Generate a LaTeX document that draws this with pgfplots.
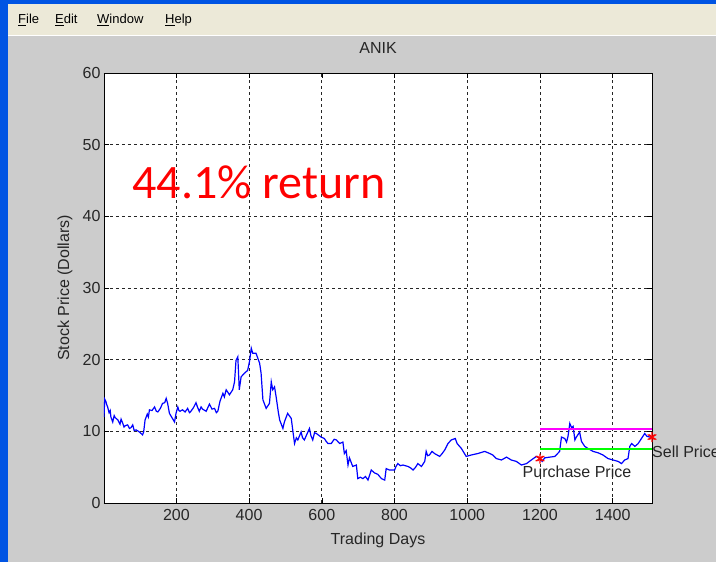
\documentclass[border=0pt]{standalone}
\usepackage{pgfplots}
\pgfplotsset{compat=1.18}
\usepackage{fontspec}
\setmainfont{Liberation Sans}
\newfontfamily\calib{Carlito}
\definecolor{figgray}{RGB}{204,204,204}
\definecolor{menubg}{RGB}{236,233,216}
\definecolor{xpblue}{RGB}{0,84,227}
\definecolor{mlblue}{RGB}{0,0,255}
\definecolor{mlmag}{RGB}{255,0,255}
\definecolor{mlgreen}{RGB}{0,255,0}
\definecolor{mlred}{RGB}{255,0,0}

\begin{document}
\begin{tikzpicture}[x=1pt,y=1pt]
% window frame
\fill[figgray] (0,0) rectangle (716,562);
\fill[menubg] (0,527) rectangle (716,558);
\draw[white, line width=1pt] (0,526.5) -- (716,526.5);
\fill[xpblue] (0,558) rectangle (716,562);
\fill[xpblue] (0,0) rectangle (8,562);
\begin{scope}[every node/.style={anchor=base west, inner sep=0pt, font=\fontsize{13}{15}\selectfont}]
\node at (18,538) {\underline{F}ile};
\node at (55,538) {\underline{E}dit};
\node at (97,538) {\underline{W}indow};
\node at (165,538) {\underline{H}elp};
\end{scope}

\begin{axis}[
    at={(104pt,59pt)}, anchor=south west,
    scale only axis, width=548pt, height=430pt,
    xmin=1, xmax=1508, ymin=0, ymax=60,
    xtick={200,400,...,1400}, ytick={0,10,...,60},
    tick pos=both, tick align=inside, major tick length=5pt,
    tick style={black, line width=0.6pt},
    axis line style={black, line width=0.8pt},
    axis background/.style={fill=white},
    grid=major,
    grid style={black!85, line width=0.7pt, dash pattern=on 3pt off 3pt},
    /pgf/number format/assume math mode=true,
    /pgf/number format/1000 sep={},
    tick label style={font=\fontsize{16}{18}\selectfont, text=black!85},
    xticklabel style={yshift=-3pt},
    title={ANIK},
    title style={at={(axis description cs:0.5,1.0442)}, anchor=center, font=\fontsize{16}{18}\selectfont, text=black!85},
    xlabel={Trading Days},
    xlabel style={at={(axis description cs:0.5,-0.086)}, anchor=center, font=\fontsize{16}{18}\selectfont, text=black!85},
    ylabel={Stock Price (Dollars)},
    ylabel style={at={(axis description cs:-0.071,0.5)}, anchor=center, font=\fontsize{16}{18}\selectfont, text=black!85},
    clip mode=individual,
]
\addplot[color=mlblue, line width=1.2pt] coordinates {
(1,12.0) (3,14.5) (6,14.2) (8,13.8) (11,13.4) (15,12.6) (18,12.9) (20,12.0) (25,11.3) (29,12.2) (32,11.9) (39,11.6)
(45,11.0) (48,11.7) (52,11.2) (56,10.6) (60,10.8) (66,10.9) (71,10.4) (75,10.5) (80,10.9) (84,10.1) (89,10.2) (96,10.0) (103,9.7) (107,9.5) (110,9.9) (114,11.6)
(120,12.4) (123,12.0) (126,13.0) (133,12.9) (140,13.4) (145,12.8) (149,12.7) (156,13.2) (162,13.9) (168,14.0) (172,14.6) (176,13.9)
(181,12.5) (188,11.9) (195,11.3) (199,12.5) (204,13.4) (207,12.9) (210,12.8) (217,13.0) (224,12.7) (231,13.2) (236,12.6) (240,12.8)
(247,13.3) (254,14.0) (258,13.4) (263,12.8) (268,13.4) (272,13.1) (282,12.8) (291,13.8) (298,13.1) (305,13.2) (310,12.6) (314,12.8)
(320,14.2) (328,15.3) (332,14.8) (337,15.8) (346,15.1) (355,15.8) (360,16.9) (364,19.9) (369,20.4) (373,15.8) (378,17.6)
(387,18.1) (396,18.5) (401,19.7) (406,21.6) (410,20.9) (419,20.9) (429,19.5) (433,18.1) (438,14.4) (447,13.2)
(456,13.9) (461,16.9) (465,15.8) (470,16.2) (475,14.6) (480,12.8) (484,11.6) (493,10.4) (497,11.3) (506,12.5)
(516,11.8) (520,10.2) (525,8.3) (530,9.1) (534,8.8) (543,9.9) (547,9.1) (552,8.8) (559,9.6) (566,10.4) (570,9.4) (575,8.8) (580,9.8) (585,9.7)
(598,9.2) (607,9.0) (612,8.6) (617,8.3) (626,8.3) (634,8.9) (640,8.8) (649,8.3) (658,8.5) (662,6.9) (667,7.3) (672,5.3) (676,6.3)
(685,5.1) (695,5.3) (699,3.4) (706,3.6) (713,3.4) (720,3.7) (727,3.2) (736,4.6) (745,4.2) (754,4.0) (764,3.4) (773,3.2)
(777,4.8) (786,4.6) (800,4.6) (804,5.1) (809,5.5) (816,5.2) (823,5.3) (837,5.1) (844,4.9) (851,4.6) (858,5.0) (864,5.5) (874,5.1) (883,5.8)
(887,7.2) (891,6.6) (896,6.7) (903,7.2) (910,6.9) (924,6.5) (931,6.9) (938,7.4) (947,8.3) (956,8.8) (967,9.0) (972,8.3) (984,7.6)
(997,6.5) (1011,6.7) (1029,6.9) (1048,7.2) (1062,6.9) (1070,6.7) (1080,6.2) (1094,6.0) (1108,6.4) (1121,6.0) (1135,5.8)
(1149,5.3) (1163,5.5) (1176,6.0) (1190,6.5) (1200,6.2) (1206,5.8) (1213,6.3) (1227,6.4) (1241,6.5) (1254,7.2) (1259,9.2)
(1268,9.0) (1273,8.5) (1277,9.3) (1282,11.1) (1287,10.5) (1291,10.7) (1296,8.8) (1300,9.2) (1309,9.9) (1314,8.6)
(1323,7.9) (1332,7.6) (1346,7.2) (1360,7.0) (1373,6.7) (1387,6.2) (1401,6.0) (1415,5.8) (1424,5.5) (1433,6.0)
(1442,6.2) (1447,7.9) (1452,8.3) (1461,7.9) (1470,8.3) (1479,9.0) (1488,9.7) (1494,9.3) (1502,9.2) (1508,9.2)
};
\addplot[draw=mlmag, line width=1.5pt] table {
x y
1200 10.3
1508 10.3
};
\addplot[draw=mlgreen, line width=1.5pt] table {
x y
1200 7.5
1508 7.5
};
\addplot[color=mlred, only marks, mark=asterisk, mark size=5pt, line width=1.1pt] coordinates {(1200,6.2) (1508,9.2)};
\addplot[color=mlred, only marks, mark=x, mark size=3.6pt, line width=1.1pt] coordinates {(1200,6.2) (1508,9.2)};
\node[anchor=west, inner sep=0pt, font=\fontsize{16}{18}\selectfont, text=black!85] at (axis cs:1152,4.3) {Purchase Price};
\node[anchor=west, inner sep=0pt, font=\fontsize{16}{18}\selectfont, text=black!85] at (axis cs:1508,7.1) {Sell Price};
\node[anchor=west, inner sep=0pt, text=mlred, font=\calib\fontsize{48}{52}\selectfont] at (axis cs:79,44.8) {44.1\% return};
\end{axis}
\pgfresetboundingbox
\path[use as bounding box] (0,0) rectangle (716,562);
\end{tikzpicture}
\end{document}
